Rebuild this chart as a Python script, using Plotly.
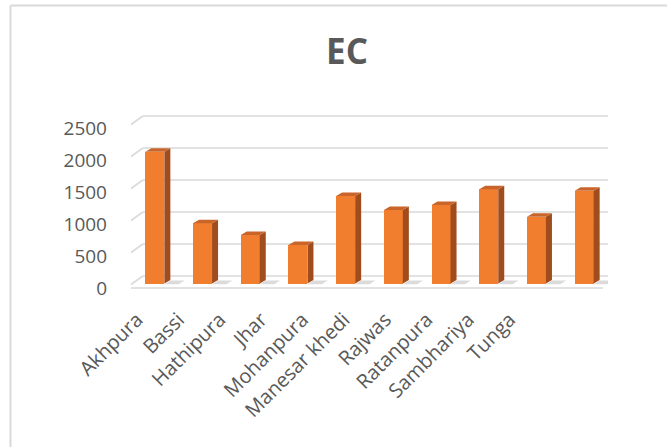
import plotly.graph_objects as go

# ---- data ----
categories = ["Akhpura", "Bassi", "Hathipura", "Jhar", "Mohanpura",
              "Manesar khedi", "Rajwas", "Ratanpura", "Sambhariya", "Tunga"]
ec_values = [2060, 940, 758, 600, 1367, 1148, 1227, 1472, 1044, 1450]
y_ticks = [0, 500, 1000, 1500, 2000, 2500]

# ---- geometry (pixel-based layout of the pseudo-3D look) ----
W, H = 667, 447
L, R, T, B = 131, 59, 100, 147
plot_w = W - L - R
plot_h = H - T - B
px_per_x = plot_w / 10.0            # x range [-0.5, 9.5]
px_per_y = 0.064                    # px per value unit
zero_px = 283.5                     # pixel row of bar base
y_lo = -(T + plot_h - zero_px) / px_per_y
y_hi = y_lo + plot_h / px_per_y

def xu(px):
    return (px - L) / px_per_x - 0.5

front_dy = -4.5 / px_per_y          # front edge offset (below bar base)
back_dy = 7.5 / px_per_y            # back wall offset (above bar base)
x_front = xu(126)
x_back = xu(143)
x_back_end = xu(620)
x_front_end = xu(603)

bar_w = 19 / px_per_x
dep_x = 6 / px_per_x
dep_y = 3.5 / px_per_y

grid_col = "#d9d9d9"
text_col = "#595959"

fig = go.Figure()

# soft shadows on floor
sx, sy = [], []
for i, v in enumerate(ec_values):
    xr = i + bar_w / 2
    sx += [xr, xr + 0.30, xr + 0.30 + dep_x, xr + dep_x, xr, None]
    sy += [-10, -10, 45, 45, -10, None]
fig.add_trace(go.Scatter(x=sx, y=sy, mode="lines", fill="toself",
                         fillcolor="rgba(90,90,90,0.22)", line=dict(width=0),
                         hoverinfo="skip", showlegend=False))

# front faces
fig.add_trace(go.Bar(x=list(range(len(categories))), y=ec_values, width=bar_w,
                     marker=dict(color="#F07E2E", line=dict(width=0)),
                     hovertext=categories, showlegend=False))

# side faces
sdx, sdy = [], []
for i, v in enumerate(ec_values):
    xr = i + bar_w / 2
    sdx += [xr, xr, xr + dep_x, xr + dep_x, xr, None]
    sdy += [0, v, v + dep_y, dep_y, 0, None]
fig.add_trace(go.Scatter(x=sdx, y=sdy, mode="lines", fill="toself",
                         fillcolor="#A14C1C", line=dict(width=0),
                         hoverinfo="skip", showlegend=False))

# top faces
tx, ty = [], []
for i, v in enumerate(ec_values):
    xl = i - bar_w / 2
    xr = i + bar_w / 2
    tx += [xl, xr, xr + dep_x, xl + dep_x, xl, None]
    ty += [v, v, v + dep_y, v + dep_y, v, None]
fig.add_trace(go.Scatter(x=tx, y=ty, mode="lines", fill="toself",
                         fillcolor="#C9652B", line=dict(width=0),
                         hoverinfo="skip", showlegend=False))

shapes = []
for v in y_ticks:
    shapes.append(dict(type="line", xref="x", yref="y", layer="below",
                       x0=x_back, x1=x_back_end, y0=v + back_dy, y1=v + back_dy,
                       line=dict(color=grid_col, width=1.6)))
    shapes.append(dict(type="line", xref="x", yref="y", layer="below",
                       x0=x_front, x1=x_back, y0=v + front_dy, y1=v + back_dy,
                       line=dict(color=grid_col, width=1.6)))
shapes.append(dict(type="line", xref="x", yref="y", layer="below",
                   x0=x_front, x1=x_front_end, y0=front_dy, y1=front_dy,
                   line=dict(color=grid_col, width=1.6)))

def xp(px):
    return (px - L) / plot_w

def yp(py):
    return (T + plot_h - py) / plot_h

shapes.append(dict(type="line", xref="paper", yref="paper",
                   x0=xp(10.5), x1=xp(10.5), y0=yp(5.5), y1=yp(470),
                   line=dict(color="#d9d9d9", width=2)))
shapes.append(dict(type="line", xref="paper", yref="paper",
                   x0=xp(10.5), x1=xp(690), y0=yp(5.5), y1=yp(5.5),
                   line=dict(color="#d9d9d9", width=2)))

label_px = [137 + 41.4 * i for i in range(len(categories))]
label_pos = [xu(p) for p in label_px]

fig.update_layout(
    width=W, height=H,
    margin=dict(l=L, r=R, t=T, b=B, pad=0),
    paper_bgcolor="white", plot_bgcolor="white",
    title=dict(text="<b>EC</b>", x=347 / W, xref="container", xanchor="center",
               y=1 - 52 / H, yref="container", yanchor="middle",
               font=dict(family="Open Sans", size=35, color=text_col)),
    font=dict(family="Open Sans", color=text_col),
    shapes=shapes,
    bargap=0,
    xaxis=dict(range=[-0.5, 9.5], showgrid=False, zeroline=False, showline=False,
               tickmode="array", tickvals=label_pos, ticktext=categories,
               tickangle=-45, ticks="", ticklabelstandoff=3,
               tickfont=dict(size=20, color=text_col), fixedrange=True),
    yaxis=dict(range=[y_lo, y_hi], showgrid=False, zeroline=False, showline=False,
               tickmode="array", tickvals=[v + front_dy for v in y_ticks],
               ticktext=[str(v) for v in y_ticks], ticks="",
               ticklabelstandoff=23,
               tickfont=dict(size=19, color=text_col), fixedrange=True),
)

fig.write_html("out.html")
